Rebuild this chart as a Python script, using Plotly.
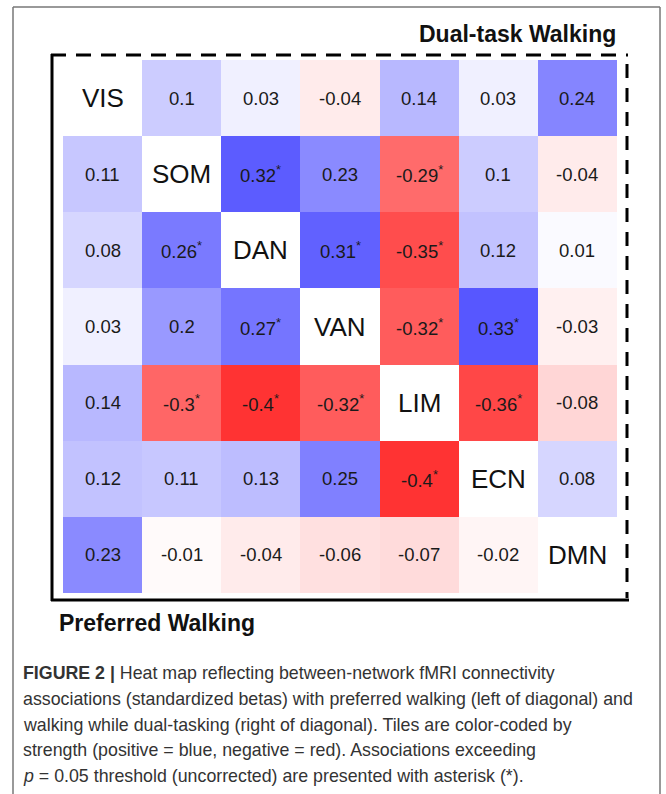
import plotly.graph_objects as go

networks = ["VIS", "SOM", "DAN", "VAN", "LIM", "ECN", "DMN"]

# upper triangle = dual-task walking, lower triangle = preferred walking; diagonal = None
betas = [
    [None, 0.10, 0.03, -0.04, 0.14, 0.03, 0.24],
    [0.11, None, 0.32, 0.23, -0.29, 0.10, -0.04],
    [0.08, 0.26, None, 0.31, -0.35, 0.12, 0.01],
    [0.03, 0.20, 0.27, None, -0.32, 0.33, -0.03],
    [0.14, -0.30, -0.40, -0.32, None, -0.36, -0.08],
    [0.12, 0.11, 0.13, 0.25, -0.40, None, 0.08],
    [0.23, -0.01, -0.04, -0.06, -0.07, -0.02, None],
]
significant = [
    [0, 0, 0, 0, 0, 0, 0],
    [0, 0, 1, 0, 1, 0, 0],
    [0, 1, 0, 1, 1, 0, 0],
    [0, 0, 1, 0, 1, 1, 0],
    [0, 1, 1, 1, 0, 1, 0],
    [0, 0, 0, 0, 1, 0, 0],
    [0, 0, 0, 0, 0, 0, 0],
]
title_upper = "Dual-task Walking"
title_lower = "Preferred Walking"
caption_lines = [
    "<b>FIGURE 2 |</b> Heat map reflecting between-network fMRI connectivity",
    "associations (standardized betas) with preferred walking (left of diagonal) and",
    "walking while dual-tasking (right of diagonal). Tiles are color-coded by",
    "strength (positive = blue, negative = red). Associations exceeding",
    "<i>p</i> = 0.05 threshold (uncorrected) are presented with asterisk (*).",
]

W, H = 666, 794
L, R, T, B = 63, 617, 60, 593  # plot area in page pixels


def px(x):
    return (x - L) / (R - L)


def py(y):
    return (B - y) / (B - T)


def fmt(v):
    s = f"{v:.2f}".rstrip("0")
    if s.endswith("."):
        s += "0"
    return s


fig = go.Figure()
fig.add_trace(go.Heatmap(
    z=betas,
    x=list(range(7)),
    y=list(range(7)),
    zmin=-0.5, zmax=0.5,
    colorscale=[[0, "#ff0000"], [0.5, "#ffffff"], [1, "#0000ff"]],
    showscale=False,
    hoverongaps=False,
    xgap=0, ygap=0,
))

annotations = []
font_family = "Liberation Sans, Arial, sans-serif"
for i in range(7):
    for j in range(7):
        if i == j:
            annotations.append(dict(x=j, y=i, xref="x", yref="y", text=networks[i],
                                    showarrow=False,
                                    font=dict(family=font_family, size=26, color="#111")))
        else:
            t = fmt(betas[i][j])
            if significant[i][j]:
                t += "<sup>*</sup>"
            annotations.append(dict(x=j, y=i, xref="x", yref="y", text=t, showarrow=False,
                                    font=dict(family=font_family, size=18.5, color="#1a1a1a")))

annotations.append(dict(x=px(618), y=py(34), xref="paper", yref="paper", text=f"<b>{title_upper}</b>",
                        showarrow=False, xanchor="right", yanchor="middle",
                        font=dict(family=font_family, size=23, color="#111")))
annotations.append(dict(x=px(57), y=py(623), xref="paper", yref="paper", text=f"<b>{title_lower}</b>",
                        showarrow=False, xanchor="left", yanchor="middle",
                        font=dict(family=font_family, size=23, color="#111")))

for k, line in enumerate(caption_lines):
    annotations.append(dict(x=px(21), y=py(673 + k * 25.8), xref="paper", yref="paper", text=line,
                            showarrow=False, xanchor="left", yanchor="middle",
                            font=dict(family=font_family, size=17.8, color="#333")))

shapes = []
# outer figure frame
for (x0, y0, x1, y1) in [(13, 7, 660, 7), (13, 7, 13, 800), (660, 7, 660, 800)]:
    shapes.append(dict(type="line", xref="paper", yref="paper", x0=px(x0), x1=px(x1), y0=py(y0), y1=py(y1),
                       line=dict(color="#777", width=1.5)))
# lower-triangle (solid) border: left and bottom
shapes.append(dict(type="line", xref="paper", yref="paper", x0=px(52), x1=px(52), y0=py(54), y1=py(601),
                   line=dict(color="#000", width=3)))
shapes.append(dict(type="line", xref="paper", yref="paper", x0=px(51), x1=px(629), y0=py(600), y1=py(600),
                   line=dict(color="#000", width=3)))
# upper-triangle (dashed) border: top and right
shapes.append(dict(type="line", xref="paper", yref="paper", x0=px(51), x1=px(628), y0=py(55), y1=py(55),
                   line=dict(color="#000", width=3, dash="15px,10px")))
shapes.append(dict(type="line", xref="paper", yref="paper", x0=px(627), x1=px(627), y0=py(64), y1=py(598),
                   line=dict(color="#000", width=3, dash="14px,10px")))

fig.update_layout(
    width=W, height=H,
    margin=dict(l=L, r=W - R, t=T, b=H - B, pad=0),
    paper_bgcolor="white", plot_bgcolor="white",
    xaxis=dict(visible=False, range=[-0.5, 6.5], fixedrange=True),
    yaxis=dict(visible=False, range=[6.5, -0.5], fixedrange=True),
    annotations=annotations,
    shapes=shapes,
    showlegend=False,
)

fig.write_html("out.html",
               config={"displayModeBar": False},
               post_script="document.body.style.margin='0';document.body.style.overflow='hidden';")
